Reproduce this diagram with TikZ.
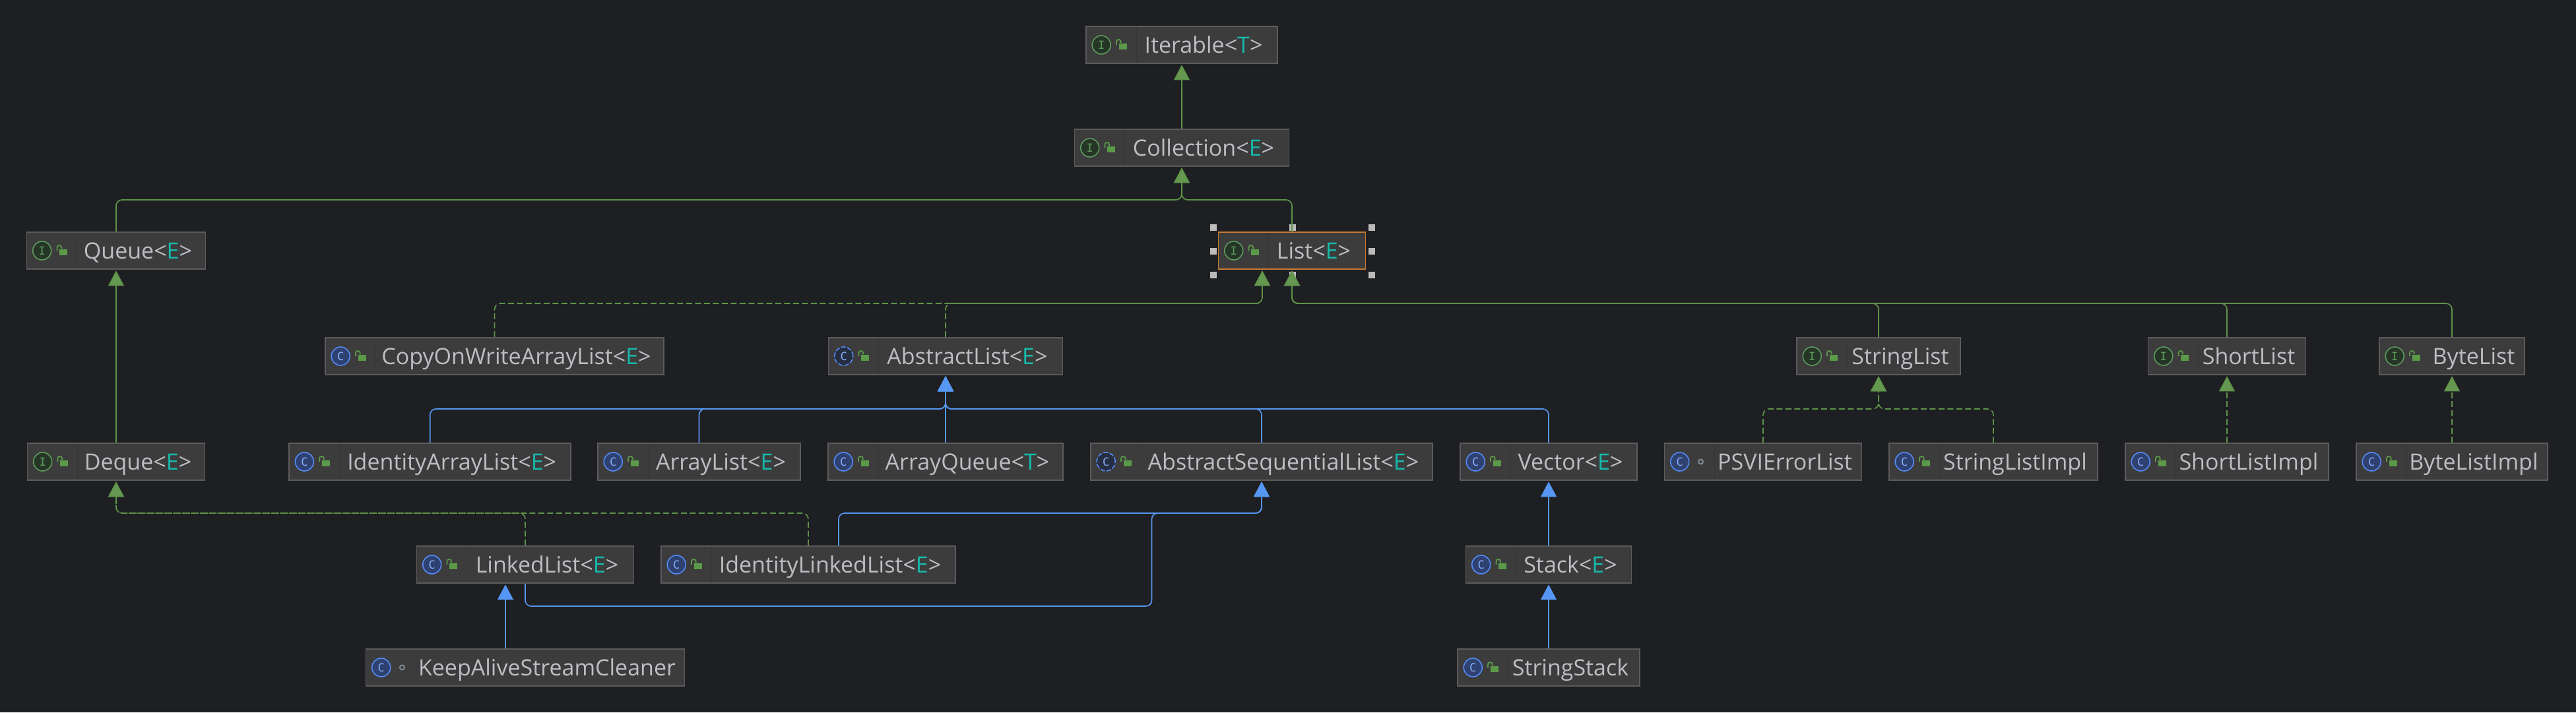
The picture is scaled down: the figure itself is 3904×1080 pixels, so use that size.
\documentclass[tikz,border=0pt]{standalone}
\usepackage{xcolor}
\usepackage{fontspec}
\setmainfont{Open Sans}
\newfontfamily\iconfont{DejaVu Sans Mono}
\usepackage{tikz}
\usetikzlibrary{arrows.meta}
\definecolor{canvasbg}{HTML}{1E1F22}
\definecolor{boxfill}{HTML}{3C3C3C}
\definecolor{boxline}{HTML}{5C5C5C}
\definecolor{boxsep}{HTML}{363636}
\definecolor{nametext}{HTML}{BCBEC4}
\definecolor{typetext}{HTML}{16BAAC}
\definecolor{selline}{HTML}{C77A35}
\definecolor{handlegray}{HTML}{BBBBBB}
\definecolor{lockgreen}{HTML}{5B9A48}
\definecolor{igreen}{HTML}{5E9A5C}
\definecolor{igreenbg}{HTML}{253627}
\definecolor{cblue}{HTML}{548AF7}
\definecolor{cbluebg}{HTML}{2F4170}
\definecolor{edgegreen}{HTML}{5E9349}
\definecolor{edgeblue}{HTML}{5597F2}
\definecolor{ringgray}{HTML}{7F8B91}
\newcommand{\tp}[1]{\textcolor{typetext}{#1}}
\tikzset{
  classbox/.style={draw=boxline,fill=boxfill,line width=1.6pt,minimum height=56pt,inner sep=0pt,
    text=nametext,font=\fontsize{34}{38}\selectfont,text height=24pt,text depth=0pt,
    execute at begin node={\hspace*{66pt}}},
  boxparts/.style={path picture={
    \draw[boxsep,line width=1pt] ([xshift=76pt,yshift=30pt]path picture bounding box.west)
      -- ([xshift=76pt,yshift=-30pt]path picture bounding box.west);
    #1}},
  openlock/.style={boxparts={
    \fill[lockgreen] ([xshift=49.5pt,yshift=2pt]path picture bounding box.west)
      rectangle ([xshift=61.5pt,yshift=-7pt]path picture bounding box.west);
    \draw[lockgreen,line width=1.8pt,rounded corners=3pt]
      ([xshift=46pt]path picture bounding box.west) -- ++(0,-8) -- ++(6.6,0) -- ++(0,5);}},
  ringlock/.style={boxparts={
    \draw[ringgray,line width=2pt] ([xshift=55pt]path picture bounding box.west) circle[radius=3.5pt];}},
  iconbase/.style={anchor=center,xshift=24pt,circle,minimum size=28pt,inner sep=0pt,line width=1.6pt,
    font=\iconfont\fontsize{17}{17}\selectfont},
  iconi/.style={iconbase,draw=igreen,fill=igreenbg,text=igreen},
  iconc/.style={iconbase,draw=cblue,fill=cbluebg,text=cblue!70!white},
  iconabs/.style={iconc,fill=canvasbg!60!cbluebg,dash pattern=on 7pt off 2.5pt},
  ifacebox/.style={classbox,openlock,label={[iconi]west:I}},
  classnode/.style={classbox,openlock,label={[iconc]west:C}},
  absnode/.style={classbox,openlock,label={[iconabs]west:C}},
  hiddennode/.style={classbox,ringlock,label={[iconc]west:C}},
  handle/.style={fill=handlegray,minimum size=10pt,inner sep=0pt},
  extendsg/.style={draw=edgegreen,line width=1.7pt,rounded corners=9pt,shorten >=1.5pt,
    -{Triangle[length=23pt,width=24pt,fill=edgegreen!95!white]}},
  implementsg/.style={extendsg,dash pattern=on 9pt off 4.5pt},
  extendsb/.style={draw=edgeblue,line width=1.7pt,rounded corners=9pt,shorten >=1.5pt,
    -{Triangle[length=23pt,width=24pt]}}
}
\begin{document}
\begin{tikzpicture}[x=1pt,y=-1pt]
\fill[canvasbg] (0,0) rectangle (3904,1080);
\useasboundingbox (0,0) rectangle (3904,1080);

\node[ifacebox,minimum width=290] at (1791,68) (iterable) {Iterable<\tp{T}>};
\node[ifacebox,minimum width=325] at (1791,224) (collection) {Collection<\tp{E}>};
\node[ifacebox,minimum width=271] at (176,380) (queue) {Queue<\tp{E}>};
\node[ifacebox,minimum width=223,draw=selline] at (1958,380) (list) {List<\tp{E}>};

\node[classnode,minimum width=513] at (749.5,540) (cowlist) {CopyOnWriteArrayList<\tp{E}>};
\node[absnode,minimum width=355] at (1433,540) (abstractlist) {AbstractList<\tp{E}>};
\node[ifacebox,minimum width=248] at (2847,540) (stringlist) {StringList};
\node[ifacebox,minimum width=239] at (3375,540) (shortlist) {ShortList};
\node[ifacebox,minimum width=220] at (3716,540) (bytelist) {ByteList};

\node[ifacebox,minimum width=269] at (176,700) (deque) {Deque<\tp{E}>};
\node[classnode,minimum width=427] at (651.7,700) (identityarray) {IdentityArrayList<\tp{E}>};
\node[classnode,minimum width=307] at (1059.5,700) (arraylist) {ArrayList<\tp{E}>};
\node[classnode,minimum width=356] at (1433,700) (arrayqueue) {ArrayQueue<\tp{T}>};
\node[absnode,minimum width=518] at (1912,700) (seqlist) {AbstractSequentialList<\tp{E}>};
\node[classnode,minimum width=268] at (2347,700) (vector) {Vector<\tp{E}>};
\node[hiddennode,minimum width=299] at (2672,700) (psvilist) {PSVIErrorList};
\node[classnode,minimum width=316] at (3021,700) (stringimpl) {StringListImpl};
\node[classnode,minimum width=308] at (3375,700) (shortimpl) {ShortListImpl};
\node[classnode,minimum width=290] at (3716,700) (byteimpl) {ByteListImpl};

\node[classnode,minimum width=329] at (796,856) (linkedlist) {LinkedList<\tp{E}>};
\node[classnode,minimum width=446] at (1225,856) (identitylinked) {IdentityLinkedList<\tp{E}>};
\node[classnode,minimum width=251] at (2347,856) (stack) {Stack<\tp{E}>};

\node[hiddennode,minimum width=483] at (796,1012) (keepalive) {KeepAliveStreamCleaner};
\node[classnode,minimum width=276] at (2347,1012) (stringstack) {StringStack};

\node[handle] at (1839,345) (h1) {};
\node[handle] at (1959,345) (h2) {};
\node[handle] at (2079,345) (h3) {};
\node[handle] at (1839,381) (h4) {};
\node[handle] at (2079,381) (h5) {};
\node[handle] at (1839,417) (h6) {};
\node[handle] at (1959,417) (h7) {};
\node[handle] at (2079,417) (h8) {};

\coordinate (lvlcoll) at (0,303);
\coordinate (lvllist) at (0,460);
\coordinate (lvlabs) at (0,620);
\coordinate (lvlseq) at (0,778);
\coordinate (lvlloop) at (1745.5,919);
\coordinate (listleft) at ([xshift=-45pt]list.south);

\draw[extendsg] (collection.north) -- (iterable.south);
\draw[extendsg] (queue.north) |- (lvlcoll -| collection.south) -- (collection.south);
\draw[extendsg] (list.north) |- (lvlcoll -| collection.south) -- (collection.south);
\draw[extendsg] (deque.north) -- (queue.south);

\draw[implementsg] (cowlist.north) |- (lvllist -| listleft) -- (listleft);
\draw[implementsg] (abstractlist.north) |- (lvllist -| listleft) -- (listleft);
\draw[extendsg] (stringlist.north) |- (lvllist -| list.south) -- (list.south);
\draw[extendsg] (shortlist.north) |- (lvllist -| list.south) -- (list.south);
\draw[extendsg] (bytelist.north) |- (lvllist -| list.south) -- (list.south);

\draw[extendsb] (identityarray.north) |- (lvlabs -| abstractlist.south) -- (abstractlist.south);
\draw[extendsb] (arraylist.north) |- (lvlabs -| abstractlist.south) -- (abstractlist.south);
\draw[extendsb] (arrayqueue.north) -- (abstractlist.south);
\draw[extendsb] (seqlist.north) |- (lvlabs -| abstractlist.south) -- (abstractlist.south);
\draw[extendsb] (vector.north) |- (lvlabs -| abstractlist.south) -- (abstractlist.south);

\draw[implementsg] (psvilist.north) |- (lvlabs -| stringlist.south) -- (stringlist.south);
\draw[implementsg] (stringimpl.north) |- (lvlabs -| stringlist.south) -- (stringlist.south);
\draw[implementsg] (shortimpl.north) -- (shortlist.south);
\draw[implementsg] (byteimpl.north) -- (bytelist.south);

\draw[implementsg] (linkedlist.north) |- (lvlseq -| deque.south) -- (deque.south);
\draw[implementsg] (identitylinked.north) |- (lvlseq -| deque.south) -- (deque.south);
\draw[extendsb] ([xshift=46pt]identitylinked.north) |- (lvlseq -| seqlist.south) -- (seqlist.south);
\draw[extendsb] (linkedlist.south) |- (lvlloop) -- (lvlloop |- lvlseq) -| (seqlist.south);
\draw[extendsb] (stack.north) -- (vector.south);
\draw[extendsb] (stringstack.north) -- (stack.south);
\draw[extendsb] ([xshift=-30pt]keepalive.north) -- ([xshift=-30pt]linkedlist.south);
\end{tikzpicture}
\end{document}
